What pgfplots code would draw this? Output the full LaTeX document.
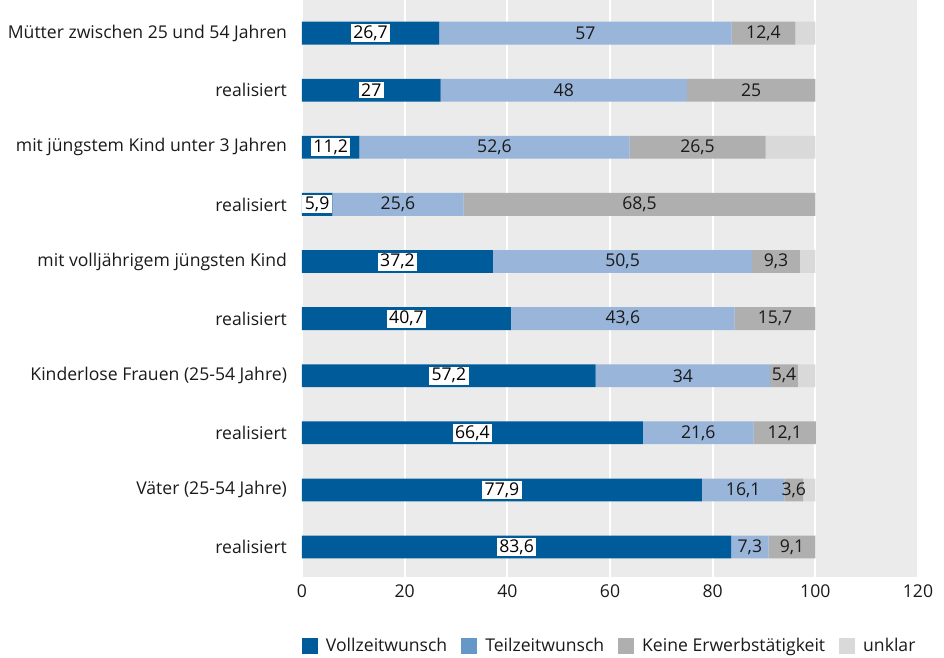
\documentclass[border=0pt]{standalone}
\usepackage{fontspec}
\setmainfont{Open Sans}
\usepackage{pgfplots}
\usepackage{pgfplotstable}
\pgfplotsset{compat=1.18}
\definecolor{voll}{HTML}{005B9A}
\definecolor{teil}{HTML}{99B5D9}
\definecolor{teilleg}{HTML}{6598C8}
\definecolor{keine}{HTML}{AFAFAF}
\definecolor{unklar}{HTML}{D9D9D9}
\definecolor{bg}{HTML}{EBEBEB}
\definecolor{txt}{HTML}{1A1A1A}

\pgfplotstableread{
y v t k u
0 26.7 57 12.4 3.9
1 27 48 25 0
2 11.2 52.6 26.5 9.7
3 5.9 25.6 68.5 0
4 37.2 50.5 9.3 3.0
5 40.7 43.6 15.7 0
6 57.2 34 5.4 3.4
7 66.4 21.6 12.1 0
8 77.9 16.1 3.6 2.4
9 83.6 7.3 9.1 0
}\data

\pgfplotsset{
  /pgf/number format/assume math mode=true,
  /pgf/number format/use comma,
  base/.style={scale only axis, width=616bp, height=577bp,
    xmin=0, xmax=120, ymin=-0.58, ymax=9.525, y dir=reverse, clip=false},
  lab/.style={draw=none, mark=none, nodes near coords, point meta=explicit,
    every node near coord/.style={anchor=center, text=txt, inner xsep=2.5bp, inner ysep=1.5bp}},
}

\begin{document}
\fontsize{17.6bp}{21bp}\selectfont
\begin{tikzpicture}
\begin{axis}[base, name=ax,
  xbar stacked, bar width=0.4,
  axis background/.style={fill=bg},
  xtick={0,20,...,120},
  ytick={0,...,9},
  yticklabels={{Mütter zwischen 25 und 54 Jahren},realisiert,{mit jüngstem Kind unter 3 Jahren},realisiert,{mit volljährigem jüngsten Kind},realisiert,{Kinderlose Frauen (25-54 Jahre)},realisiert,{Väter (25-54 Jahre)},realisiert},
  xmajorgrids, grid style={white, line width=2.2bp},
  axis line style={draw=none},
  major tick length=0,
  tick label style={text=txt},
  yticklabel style={xshift=-9bp},
  xticklabel style={yshift=-2bp},
  legend columns=4,
  legend style={at={(axis description cs:0,-0.1196)}, anchor=west, draw=none, fill=none,
    inner sep=0pt, outer sep=0pt,
    /tikz/every odd column/.append style={column sep=6bp},
    /tikz/every even column/.append style={column sep=12bp},
    text=txt},
  legend image code/.code={\fill[#1] (0bp,-8bp) rectangle (16bp,8bp);},
]
\addplot[fill=voll, draw=none] table[x=v, y=y]{\data};
\addplot[fill=teil, draw=none,
  legend image code/.code={\fill[teilleg] (0bp,-8bp) rectangle (16bp,8bp);}] table[x=t, y=y]{\data};
\addplot[fill=keine, draw=none] table[x=k, y=y]{\data};
\addplot[fill=unklar, draw=none] table[x=u, y=y]{\data};
\legend{Vollzeitwunsch, Teilzeitwunsch, Keine Erwerbstätigkeit, unklar}
\end{axis}
\begin{axis}[base, hide axis]
\addplot[lab, every node near coord/.append style={fill=white, text=black}]
  table[x expr={\thisrow{v}/2}, y=y, meta=v]{\data};
\addplot[lab] table[x expr={\thisrow{v}+\thisrow{t}/2}, y=y, meta=t]{\data};
\addplot[lab] table[x expr={\thisrow{v}+\thisrow{t}+\thisrow{k}/2}, y=y, meta=k]{\data};
\end{axis}
\pgfresetboundingbox
\path[use as bounding box] (ax.south west) ++(-302bp,-81bp) rectangle ++(944bp,658bp);
\end{tikzpicture}
\end{document}
